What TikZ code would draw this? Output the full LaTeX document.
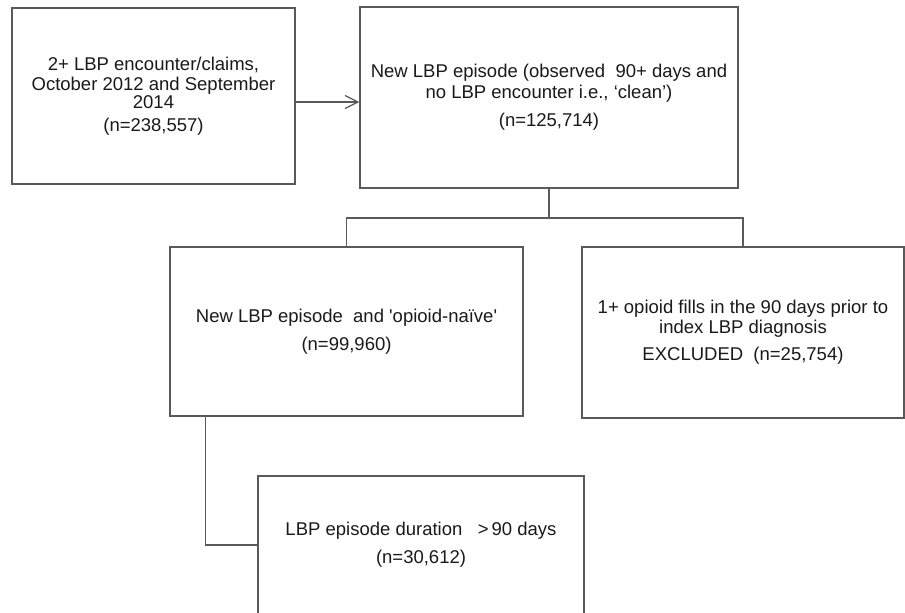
\documentclass[tikz,border=0pt]{standalone}
\usepackage{fontspec}
\setmainfont{Liberation Sans}
\usetikzlibrary{arrows.meta}
\definecolor{lineg}{HTML}{5A5A5A}
\definecolor{txt}{HTML}{1A1A1A}
\begin{document}
\begin{tikzpicture}[x=1pt,y=-1pt,
  box/.style={draw=lineg,line width=1.4pt,inner sep=0pt,align=center,text=txt,
    font=\fontsize{18.5}{20}\selectfont},
  conn/.style={draw=lineg,line width=1.4pt}]
\clip (0,0) rectangle (905,613);
\fill[white] (0,0) rectangle (905,613);
\node[box,minimum width=283pt,minimum height=176pt] (A) at (153.5,96)
  {2+ LBP encounter/claims,\\October 2012 and September\\[-2pt]2014\\[3pt](n=238,557)};
\node[box,minimum width=378pt,minimum height=181pt] (B) at (549,97.5)
  {New LBP episode (observed\ \ 90+ days and\\[1pt]no LBP encounter i.e., ‘clean’)\\[8pt](n=125,714)};
\node[box,minimum width=353pt,minimum height=169pt] (C) at (346.5,331.5)
  {New LBP episode\ \ and \textquotesingle opioid-naïve\textquotesingle\\[8pt](n=99,960)};
\node[box,minimum width=322pt,minimum height=171pt] (D) at (743,332.5)
  {1+ opioid fills in the 90 days prior to\\index LBP diagnosis\\[7pt]EXCLUDED\ \ (n=25,754)};
\node[box,minimum width=326pt,minimum height=138pt] (E) at (421,545)
  {LBP episode duration\ \ \ >\,90 days\\[8pt](n=30,612)};
\draw[conn,-{Straight Barb[length=13pt,width=13pt,line width=1.2pt]}] (A.east |- 0,102) -- (B.west |- 0,102);
\coordinate (j) at (549,218);
\draw[conn] (B.south) -- (B.south |- j);
\draw[conn] (C.north) -- (C.north |- j) -- (D.north |- j) -- (D.north);
\coordinate (c1) at ([xshift=36pt]C.south west);
\draw[conn] (c1) |- (E.west);
\end{tikzpicture}
\end{document}
